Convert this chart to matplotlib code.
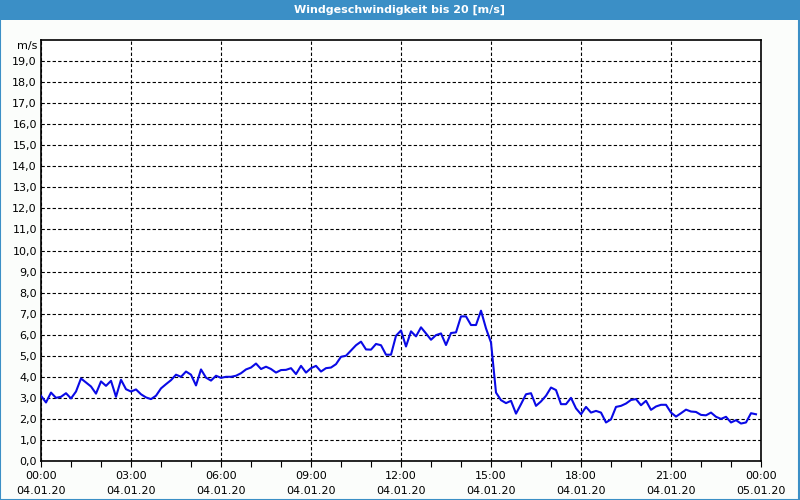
import pandas as pd
import matplotlib
matplotlib.use("Agg")
import matplotlib.pyplot as plt
import matplotlib.dates as mdates
from matplotlib.patches import Rectangle

# wind speed in m/s, one reading every 10 minutes from 04.01.20 00:00
speed = [
    3.1, 2.78, 3.25, 3.0, 3.05, 3.22, 2.97, 3.3, 3.92, 3.73,
    3.54, 3.2, 3.78, 3.57, 3.81, 3.05, 3.86, 3.41, 3.3, 3.4,
    3.17, 3.02, 2.94, 3.1, 3.45, 3.65, 3.84, 4.1, 4.0, 4.25,
    4.1, 3.59, 4.35, 3.96, 3.82, 4.05, 3.95, 4.0, 4.0, 4.05,
    4.17, 4.35, 4.44, 4.63, 4.37, 4.48, 4.37, 4.2, 4.32, 4.33,
    4.41, 4.13, 4.52, 4.2, 4.41, 4.52, 4.25, 4.41, 4.44, 4.6,
    4.95, 5.0, 5.25, 5.5, 5.67, 5.3, 5.29, 5.56, 5.5, 5.05,
    5.05, 5.95, 6.2, 5.44, 6.16, 5.92, 6.35, 6.06, 5.76, 5.98,
    6.06, 5.51, 6.08, 6.11, 6.87, 6.87, 6.46, 6.46, 7.14, 6.3,
    5.63, 3.25, 2.89, 2.75, 2.86, 2.25, 2.7, 3.17, 3.22, 2.62,
    2.83, 3.1, 3.49, 3.37, 2.7, 2.7, 3.0, 2.5, 2.22, 2.57,
    2.3, 2.38, 2.3, 1.83, 1.98, 2.57, 2.62, 2.73, 2.9, 2.94,
    2.65, 2.86, 2.43, 2.59, 2.67, 2.67, 2.3, 2.11, 2.27, 2.44,
    2.35, 2.33, 2.19, 2.17, 2.3, 2.1, 2.0, 2.1, 1.83, 1.94,
    1.78, 1.83, 2.27, 2.22,
]
times = pd.date_range("2020-01-04 00:00", periods=len(speed), freq="10min")
x_start = pd.Timestamp("2020-01-04 00:00")
x_end = pd.Timestamp("2020-01-05 00:00")
y_ticks = list(range(0, 20))
title = "Windgeschwindigkeit bis 20 [m/s]"

plt.rcParams["font.family"] = ["DejaVu Sans"]

fig = plt.figure(figsize=(8, 5), dpi=100, facecolor="#fbfdfb")

# blue title bar and frame
fig.patches.append(Rectangle((0, 0.96), 1, 0.04, transform=fig.transFigure,
                             facecolor="#3b8fc6", edgecolor="none", zorder=0))
fig.patches.append(Rectangle((0.0006, 0.001), 0.9982, 0.998, transform=fig.transFigure,
                             facecolor="none", edgecolor="#3b8fc6", linewidth=1.5, zorder=5))
fig.text(0.5, 0.98, title, color="white", fontsize=8, fontweight="bold",
         ha="center", va="center")

ax = fig.add_axes([0.05125, 0.078, 0.9, 0.842])
ax.set_facecolor("white")
ax.plot(times, speed, color="#0a0ae6", linewidth=1.5, zorder=3)

ax.set_xlim(x_start, x_end)
ax.set_ylim(0, 20)
ax.set_yticks(y_ticks)
ax.set_yticklabels([f"{v:.1f}".replace(".", ",") for v in y_ticks], fontsize=8)
ax.tick_params(axis="y", length=0, pad=3)

ax.xaxis.set_major_locator(mdates.HourLocator(byhour=range(0, 24, 3)))
ax.xaxis.set_minor_locator(mdates.HourLocator())
ax.xaxis.set_major_formatter(mdates.DateFormatter("%H:%M\n%d.%m.%y"))
ax.tick_params(axis="x", which="both", length=4, width=0.8, direction="out",
               labelsize=8, pad=3)
for lbl in ax.get_xticklabels():
    lbl.set_linespacing(1.6)

ax.grid(True, color="black", linestyle=(0, (3, 2)), linewidth=0.8)
ax.set_axisbelow(True)
for s in ax.spines.values():
    s.set_linewidth(1.2)

ax.text(-0.005, 0.985, "m/s", transform=ax.transAxes, ha="right", va="center",
        fontsize=8)

fig.savefig("out.png", dpi=100, facecolor=fig.get_facecolor())
